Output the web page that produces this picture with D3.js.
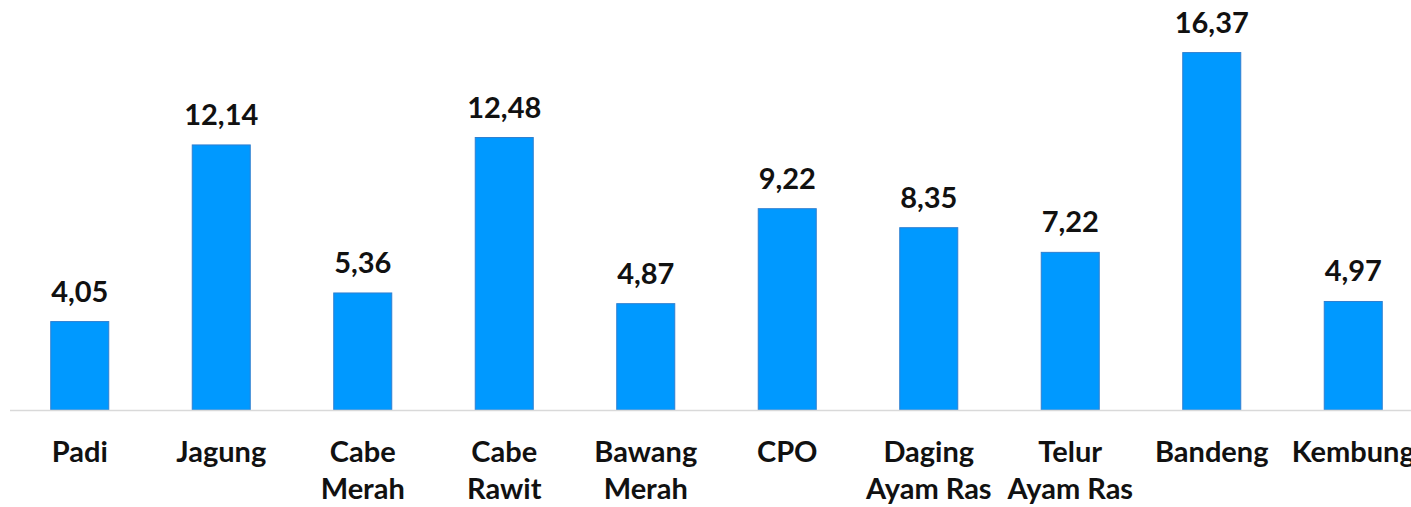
<!DOCTYPE html>
<html>
<head>
<meta charset="utf-8">
<script src="https://cdn.jsdelivr.net/npm/d3@7"></script>
<style>
  body { margin: 0; background: #fff; overflow: hidden; }
  text { font-family: Lato, "Open Sans", sans-serif; font-weight: 700; fill: #111; }
  .axis path { stroke: #d9d9d9; stroke-width: 1.5; }
  .axis line { display: none; }
</style>
</head>
<body>
<script>
const categories = ['Padi', 'Jagung', 'Cabe Merah', 'Cabe Rawit', 'Bawang Merah', 'CPO',
  'Daging Ayam Ras', 'Telur Ayam Ras', 'Bandeng', 'Kembung'];
const tickLabels = ['Padi', 'Jagung', 'Cabe\nMerah', 'Cabe\nRawit', 'Bawang\nMerah', 'CPO',
  'Daging\nAyam Ras', 'Telur\nAyam Ras', 'Bandeng', 'Kembung'];
const values = [4.05, 12.14, 5.36, 12.48, 4.87, 9.22, 8.35, 7.22, 16.37, 4.97];

const width = 1411, height = 507;

const x = d3.scaleBand()
  .domain(categories)
  .range([9, 1424])
  .paddingInner(0.59)
  .paddingOuter(0.295);

const y = d3.scaleLinear()
  .domain([0, 18])
  .range([410, 17]);

const svg = d3.select('body').append('svg')
  .attr('width', width)
  .attr('height', height);

svg.selectAll('rect.bar')
  .data(values)
  .join('rect')
  .attr('class', 'bar')
  .attr('x', (d, i) => x(categories[i]))
  .attr('y', d => y(d))
  .attr('width', x.bandwidth())
  .attr('height', d => y(0) - y(d))
  .attr('fill', '#0099ff')
  .attr('stroke', '#2f7fd0')
  .attr('stroke-width', 1);

// value labels
svg.selectAll('text.val')
  .data(values)
  .join('text')
  .attr('class', 'val')
  .attr('x', (d, i) => x(categories[i]) + x.bandwidth() / 2)
  .attr('y', d => y(d) - 20)
  .attr('text-anchor', 'middle')
  .attr('font-size', 29)
  .text(d => d.toFixed(2).replace('.', ','));

const axis = svg.append('g')
  .attr('class', 'axis')
  .attr('transform', `translate(0, ${y(0)})`)
  .call(d3.axisBottom(x).tickSize(0).tickSizeOuter(0).tickFormat(''));

axis.select('.domain').attr('d', `M10,0.5H${width}`);

axis.selectAll('.tick text')
  .attr('font-size', 29)
  .attr('fill', '#111')
  .attr('y', 0)
  .attr('dy', null)
  .each(function (d, i) {
    const lines = tickLabels[i].split('\n');
    const t = d3.select(this);
    lines.forEach((ln, j) => {
      t.append('tspan')
        .attr('x', 0)
        .attr('y', 52 + j * 37)
        .text(ln);
    });
  });
</script>
</body>
</html>
